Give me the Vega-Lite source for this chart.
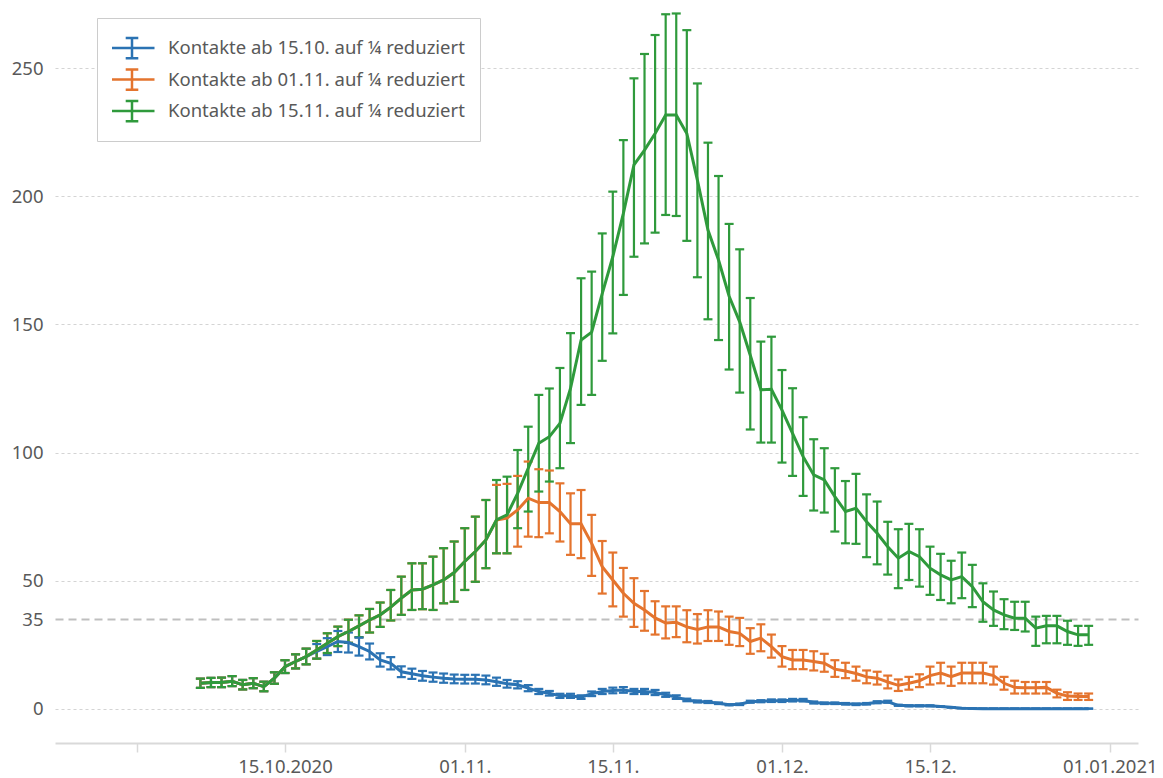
{
"$schema": "https://vega.github.io/schema/vega-lite/v6.json",
"width": 1083, "height": 739, "autosize": "none",
"padding": {"left": 55, "top": 4, "right": 25, "bottom": 35},
"background": "white",
"config": {"view": {"stroke": null}, "font": "Noto Sans"},
"data": {"values": [
{"d":"2020-10-07","s":"15.10.","v":10.0,"lo":8.2,"hi":11.8},
{"d":"2020-10-08","s":"15.10.","v":10.3,"lo":8.5,"hi":12.1},
{"d":"2020-10-09","s":"15.10.","v":10.3,"lo":8.5,"hi":12.2},
{"d":"2020-10-10","s":"15.10.","v":10.8,"lo":8.9,"hi":12.8},
{"d":"2020-10-11","s":"15.10.","v":9.4,"lo":7.6,"hi":11.3},
{"d":"2020-10-12","s":"15.10.","v":10.0,"lo":8.1,"hi":12.0},
{"d":"2020-10-13","s":"15.10.","v":8.7,"lo":6.9,"hi":10.6},
{"d":"2020-10-14","s":"15.10.","v":12.0,"lo":9.8,"hi":14.3},
{"d":"2020-10-15","s":"15.10.","v":16.5,"lo":14.0,"hi":19.0},
{"d":"2020-10-16","s":"15.10.","v":18.5,"lo":15.8,"hi":21.3},
{"d":"2020-10-17","s":"15.10.","v":20.4,"lo":17.4,"hi":23.5},
{"d":"2020-10-18","s":"15.10.","v":22.4,"lo":19.6,"hi":25.3},
{"d":"2020-10-19","s":"15.10.","v":24.3,"lo":21.0,"hi":27.6},
{"d":"2020-10-20","s":"15.10.","v":26.3,"lo":22.2,"hi":30.4},
{"d":"2020-10-21","s":"15.10.","v":25.9,"lo":22.0,"hi":29.8},
{"d":"2020-10-22","s":"15.10.","v":24.3,"lo":20.8,"hi":27.8},
{"d":"2020-10-23","s":"15.10.","v":22.4,"lo":19.3,"hi":25.5},
{"d":"2020-10-24","s":"15.10.","v":19.1,"lo":16.5,"hi":21.7},
{"d":"2020-10-25","s":"15.10.","v":17.8,"lo":15.4,"hi":20.2},
{"d":"2020-10-26","s":"15.10.","v":14.5,"lo":12.4,"hi":16.6},
{"d":"2020-10-27","s":"15.10.","v":13.7,"lo":11.7,"hi":15.7},
{"d":"2020-10-28","s":"15.10.","v":12.9,"lo":11.0,"hi":14.8},
{"d":"2020-10-29","s":"15.10.","v":12.4,"lo":10.6,"hi":14.2},
{"d":"2020-10-30","s":"15.10.","v":12.0,"lo":10.2,"hi":13.8},
{"d":"2020-10-31","s":"15.10.","v":11.7,"lo":10.0,"hi":13.4},
{"d":"2020-11-01","s":"15.10.","v":11.6,"lo":9.9,"hi":13.3},
{"d":"2020-11-02","s":"15.10.","v":11.6,"lo":9.9,"hi":13.3},
{"d":"2020-11-03","s":"15.10.","v":11.3,"lo":9.6,"hi":13.0},
{"d":"2020-11-04","s":"15.10.","v":10.6,"lo":9.0,"hi":12.2},
{"d":"2020-11-05","s":"15.10.","v":9.8,"lo":8.3,"hi":11.3},
{"d":"2020-11-06","s":"15.10.","v":9.4,"lo":8.0,"hi":10.8},
{"d":"2020-11-07","s":"15.10.","v":8.1,"lo":6.9,"hi":9.3},
{"d":"2020-11-08","s":"15.10.","v":6.8,"lo":5.8,"hi":7.8},
{"d":"2020-11-09","s":"15.10.","v":6.1,"lo":5.2,"hi":7.0},
{"d":"2020-11-10","s":"15.10.","v":5.1,"lo":4.3,"hi":5.9},
{"d":"2020-11-11","s":"15.10.","v":5.1,"lo":4.3,"hi":5.9},
{"d":"2020-11-12","s":"15.10.","v":4.6,"lo":3.9,"hi":5.3},
{"d":"2020-11-13","s":"15.10.","v":5.9,"lo":5.0,"hi":6.8},
{"d":"2020-11-14","s":"15.10.","v":6.8,"lo":5.8,"hi":7.8},
{"d":"2020-11-15","s":"15.10.","v":7.2,"lo":6.1,"hi":8.3},
{"d":"2020-11-16","s":"15.10.","v":7.4,"lo":6.3,"hi":8.5},
{"d":"2020-11-17","s":"15.10.","v":6.8,"lo":5.8,"hi":7.8},
{"d":"2020-11-18","s":"15.10.","v":6.8,"lo":5.8,"hi":7.8},
{"d":"2020-11-19","s":"15.10.","v":6.4,"lo":5.4,"hi":7.4},
{"d":"2020-11-20","s":"15.10.","v":5.5,"lo":4.7,"hi":6.3},
{"d":"2020-11-21","s":"15.10.","v":4.6,"lo":3.9,"hi":5.3},
{"d":"2020-11-22","s":"15.10.","v":3.5,"lo":3.0,"hi":4.0},
{"d":"2020-11-23","s":"15.10.","v":2.9,"lo":2.5,"hi":3.3},
{"d":"2020-11-24","s":"15.10.","v":2.7,"lo":2.3,"hi":3.1},
{"d":"2020-11-25","s":"15.10.","v":2.2,"lo":1.9,"hi":2.5},
{"d":"2020-11-26","s":"15.10.","v":1.6,"lo":1.4,"hi":1.8},
{"d":"2020-11-27","s":"15.10.","v":1.8,"lo":1.5,"hi":2.1},
{"d":"2020-11-28","s":"15.10.","v":2.8,"lo":2.4,"hi":3.2},
{"d":"2020-11-29","s":"15.10.","v":3.0,"lo":2.6,"hi":3.4},
{"d":"2020-11-30","s":"15.10.","v":3.2,"lo":2.7,"hi":3.7},
{"d":"2020-12-01","s":"15.10.","v":3.2,"lo":2.7,"hi":3.7},
{"d":"2020-12-02","s":"15.10.","v":3.4,"lo":2.9,"hi":3.9},
{"d":"2020-12-03","s":"15.10.","v":3.4,"lo":2.9,"hi":3.9},
{"d":"2020-12-04","s":"15.10.","v":2.5,"lo":2.1,"hi":2.9},
{"d":"2020-12-05","s":"15.10.","v":2.2,"lo":1.9,"hi":2.5},
{"d":"2020-12-06","s":"15.10.","v":2.2,"lo":1.9,"hi":2.5},
{"d":"2020-12-07","s":"15.10.","v":2.0,"lo":1.7,"hi":2.3},
{"d":"2020-12-08","s":"15.10.","v":1.8,"lo":1.5,"hi":2.1},
{"d":"2020-12-09","s":"15.10.","v":2.0,"lo":1.7,"hi":2.3},
{"d":"2020-12-10","s":"15.10.","v":2.6,"lo":2.2,"hi":3.0},
{"d":"2020-12-11","s":"15.10.","v":2.8,"lo":2.4,"hi":3.2},
{"d":"2020-12-12","s":"15.10.","v":1.4,"lo":1.2,"hi":1.6},
{"d":"2020-12-13","s":"15.10.","v":1.2,"lo":1.0,"hi":1.4},
{"d":"2020-12-14","s":"15.10.","v":1.2,"lo":1.0,"hi":1.4},
{"d":"2020-12-15","s":"15.10.","v":1.2,"lo":1.0,"hi":1.4},
{"d":"2020-12-16","s":"15.10.","v":0.9,"lo":0.8,"hi":1.0},
{"d":"2020-12-17","s":"15.10.","v":0.6,"lo":0.5,"hi":0.7},
{"d":"2020-12-18","s":"15.10.","v":0.3,"lo":0.25,"hi":0.35},
{"d":"2020-12-19","s":"15.10.","v":0.2,"lo":0.15,"hi":0.25},
{"d":"2020-12-20","s":"15.10.","v":0.1,"lo":0.08,"hi":0.12},
{"d":"2020-12-21","s":"15.10.","v":0.1,"lo":0.08,"hi":0.12},
{"d":"2020-12-22","s":"15.10.","v":0.1,"lo":0.08,"hi":0.12},
{"d":"2020-12-23","s":"15.10.","v":0.1,"lo":0.08,"hi":0.12},
{"d":"2020-12-24","s":"15.10.","v":0.1,"lo":0.08,"hi":0.12},
{"d":"2020-12-25","s":"15.10.","v":0.1,"lo":0.08,"hi":0.12},
{"d":"2020-12-26","s":"15.10.","v":0.1,"lo":0.08,"hi":0.12},
{"d":"2020-12-27","s":"15.10.","v":0.1,"lo":0.08,"hi":0.12},
{"d":"2020-12-28","s":"15.10.","v":0.1,"lo":0.08,"hi":0.12},
{"d":"2020-12-29","s":"15.10.","v":0.1,"lo":0.08,"hi":0.12},
{"d":"2020-12-30","s":"15.10.","v":0.1,"lo":0.08,"hi":0.12},
{"d":"2020-10-07","s":"01.11.","v":10.0,"lo":8.2,"hi":11.8},
{"d":"2020-10-08","s":"01.11.","v":10.3,"lo":8.5,"hi":12.1},
{"d":"2020-10-09","s":"01.11.","v":10.3,"lo":8.5,"hi":12.2},
{"d":"2020-10-10","s":"01.11.","v":10.8,"lo":8.9,"hi":12.8},
{"d":"2020-10-11","s":"01.11.","v":9.4,"lo":7.6,"hi":11.3},
{"d":"2020-10-12","s":"01.11.","v":10.0,"lo":8.1,"hi":12.0},
{"d":"2020-10-13","s":"01.11.","v":8.7,"lo":6.9,"hi":10.6},
{"d":"2020-10-14","s":"01.11.","v":12.0,"lo":9.8,"hi":14.3},
{"d":"2020-10-15","s":"01.11.","v":16.5,"lo":14.0,"hi":19.0},
{"d":"2020-10-16","s":"01.11.","v":18.5,"lo":15.8,"hi":21.3},
{"d":"2020-10-17","s":"01.11.","v":20.4,"lo":17.4,"hi":23.5},
{"d":"2020-10-18","s":"01.11.","v":23.0,"lo":19.6,"hi":26.5},
{"d":"2020-10-19","s":"01.11.","v":25.6,"lo":21.8,"hi":29.5},
{"d":"2020-10-20","s":"01.11.","v":28.2,"lo":24.5,"hi":32.1},
{"d":"2020-10-21","s":"01.11.","v":30.2,"lo":25.8,"hi":34.8},
{"d":"2020-10-22","s":"01.11.","v":32.4,"lo":28.0,"hi":36.5},
{"d":"2020-10-23","s":"01.11.","v":34.7,"lo":29.8,"hi":39.0},
{"d":"2020-10-24","s":"01.11.","v":36.7,"lo":32.0,"hi":41.5},
{"d":"2020-10-25","s":"01.11.","v":39.7,"lo":34.5,"hi":46.4},
{"d":"2020-10-26","s":"01.11.","v":43.2,"lo":36.7,"hi":51.6},
{"d":"2020-10-27","s":"01.11.","v":46.4,"lo":38.6,"hi":56.8},
{"d":"2020-10-28","s":"01.11.","v":46.7,"lo":38.9,"hi":56.8},
{"d":"2020-10-29","s":"01.11.","v":48.4,"lo":38.6,"hi":59.4},
{"d":"2020-10-30","s":"01.11.","v":50.3,"lo":41.2,"hi":62.7},
{"d":"2020-10-31","s":"01.11.","v":53.2,"lo":41.8,"hi":65.3},
{"d":"2020-11-01","s":"01.11.","v":57.5,"lo":46.4,"hi":70.5},
{"d":"2020-11-02","s":"01.11.","v":61.4,"lo":49.6,"hi":75.0},
{"d":"2020-11-03","s":"01.11.","v":65.9,"lo":54.9,"hi":81.5},
{"d":"2020-11-04","s":"01.11.","v":73.7,"lo":60.7,"hi":87.4},
{"d":"2020-11-05","s":"01.11.","v":74.4,"lo":60.7,"hi":87.8},
{"d":"2020-11-06","s":"01.11.","v":77.6,"lo":63.3,"hi":90.9},
{"d":"2020-11-07","s":"01.11.","v":82.2,"lo":67.2,"hi":96.5},
{"d":"2020-11-08","s":"01.11.","v":80.5,"lo":67.0,"hi":93.5},
{"d":"2020-11-09","s":"01.11.","v":80.5,"lo":68.5,"hi":93.0},
{"d":"2020-11-10","s":"01.11.","v":77.0,"lo":65.3,"hi":88.0},
{"d":"2020-11-11","s":"01.11.","v":72.2,"lo":60.1,"hi":84.1},
{"d":"2020-11-12","s":"01.11.","v":72.2,"lo":58.8,"hi":85.4},
{"d":"2020-11-13","s":"01.11.","v":64.6,"lo":51.9,"hi":75.7},
{"d":"2020-11-14","s":"01.11.","v":55.5,"lo":45.0,"hi":65.5},
{"d":"2020-11-15","s":"01.11.","v":50.3,"lo":40.0,"hi":61.0},
{"d":"2020-11-16","s":"01.11.","v":45.1,"lo":36.0,"hi":55.0},
{"d":"2020-11-17","s":"01.11.","v":41.2,"lo":32.0,"hi":51.0},
{"d":"2020-11-18","s":"01.11.","v":38.6,"lo":30.5,"hi":46.0},
{"d":"2020-11-19","s":"01.11.","v":35.5,"lo":29.0,"hi":42.0},
{"d":"2020-11-20","s":"01.11.","v":33.5,"lo":27.5,"hi":40.0},
{"d":"2020-11-21","s":"01.11.","v":33.8,"lo":28.0,"hi":40.0},
{"d":"2020-11-22","s":"01.11.","v":32.0,"lo":26.0,"hi":38.5},
{"d":"2020-11-23","s":"01.11.","v":31.0,"lo":25.5,"hi":37.0},
{"d":"2020-11-24","s":"01.11.","v":32.0,"lo":26.5,"hi":38.5},
{"d":"2020-11-25","s":"01.11.","v":32.0,"lo":26.5,"hi":38.0},
{"d":"2020-11-26","s":"01.11.","v":30.2,"lo":25.0,"hi":36.0},
{"d":"2020-11-27","s":"01.11.","v":29.5,"lo":24.5,"hi":35.5},
{"d":"2020-11-28","s":"01.11.","v":26.3,"lo":21.5,"hi":31.5},
{"d":"2020-11-29","s":"01.11.","v":27.6,"lo":22.5,"hi":33.0},
{"d":"2020-11-30","s":"01.11.","v":24.3,"lo":20.0,"hi":29.0},
{"d":"2020-12-01","s":"01.11.","v":20.4,"lo":16.5,"hi":24.5},
{"d":"2020-12-02","s":"01.11.","v":19.1,"lo":15.5,"hi":23.0},
{"d":"2020-12-03","s":"01.11.","v":19.1,"lo":15.5,"hi":23.0},
{"d":"2020-12-04","s":"01.11.","v":18.5,"lo":15.0,"hi":22.5},
{"d":"2020-12-05","s":"01.11.","v":17.8,"lo":14.5,"hi":21.5},
{"d":"2020-12-06","s":"01.11.","v":15.5,"lo":12.5,"hi":19.0},
{"d":"2020-12-07","s":"01.11.","v":14.8,"lo":12.0,"hi":18.0},
{"d":"2020-12-08","s":"01.11.","v":13.8,"lo":11.0,"hi":16.5},
{"d":"2020-12-09","s":"01.11.","v":12.5,"lo":10.0,"hi":15.0},
{"d":"2020-12-10","s":"01.11.","v":12.0,"lo":9.5,"hi":14.5},
{"d":"2020-12-11","s":"01.11.","v":10.5,"lo":8.0,"hi":13.0},
{"d":"2020-12-12","s":"01.11.","v":9.2,"lo":7.0,"hi":11.5},
{"d":"2020-12-13","s":"01.11.","v":10.0,"lo":7.5,"hi":12.5},
{"d":"2020-12-14","s":"01.11.","v":11.0,"lo":8.5,"hi":13.5},
{"d":"2020-12-15","s":"01.11.","v":13.0,"lo":9.5,"hi":16.5},
{"d":"2020-12-16","s":"01.11.","v":14.0,"lo":10.0,"hi":18.0},
{"d":"2020-12-17","s":"01.11.","v":12.6,"lo":9.0,"hi":16.5},
{"d":"2020-12-18","s":"01.11.","v":14.0,"lo":10.0,"hi":18.0},
{"d":"2020-12-19","s":"01.11.","v":14.0,"lo":10.0,"hi":18.0},
{"d":"2020-12-20","s":"01.11.","v":14.0,"lo":10.0,"hi":18.0},
{"d":"2020-12-21","s":"01.11.","v":13.0,"lo":9.5,"hi":16.5},
{"d":"2020-12-22","s":"01.11.","v":10.0,"lo":7.5,"hi":12.5},
{"d":"2020-12-23","s":"01.11.","v":8.4,"lo":6.0,"hi":11.0},
{"d":"2020-12-24","s":"01.11.","v":8.3,"lo":6.0,"hi":10.5},
{"d":"2020-12-25","s":"01.11.","v":8.3,"lo":6.0,"hi":10.5},
{"d":"2020-12-26","s":"01.11.","v":8.4,"lo":6.0,"hi":10.5},
{"d":"2020-12-27","s":"01.11.","v":6.1,"lo":4.5,"hi":7.5},
{"d":"2020-12-28","s":"01.11.","v":5.0,"lo":3.5,"hi":6.5},
{"d":"2020-12-29","s":"01.11.","v":4.8,"lo":3.5,"hi":6.0},
{"d":"2020-12-30","s":"01.11.","v":4.8,"lo":3.5,"hi":6.0},
{"d":"2020-10-07","s":"15.11.","v":10.0,"lo":8.2,"hi":11.8},
{"d":"2020-10-08","s":"15.11.","v":10.3,"lo":8.5,"hi":12.1},
{"d":"2020-10-09","s":"15.11.","v":10.3,"lo":8.5,"hi":12.2},
{"d":"2020-10-10","s":"15.11.","v":10.8,"lo":8.9,"hi":12.8},
{"d":"2020-10-11","s":"15.11.","v":9.4,"lo":7.6,"hi":11.3},
{"d":"2020-10-12","s":"15.11.","v":10.0,"lo":8.1,"hi":12.0},
{"d":"2020-10-13","s":"15.11.","v":8.7,"lo":6.9,"hi":10.6},
{"d":"2020-10-14","s":"15.11.","v":12.0,"lo":9.8,"hi":14.3},
{"d":"2020-10-15","s":"15.11.","v":16.5,"lo":14.0,"hi":19.0},
{"d":"2020-10-16","s":"15.11.","v":18.5,"lo":15.8,"hi":21.3},
{"d":"2020-10-17","s":"15.11.","v":20.4,"lo":17.4,"hi":23.5},
{"d":"2020-10-18","s":"15.11.","v":23.0,"lo":19.6,"hi":26.5},
{"d":"2020-10-19","s":"15.11.","v":25.6,"lo":21.8,"hi":29.5},
{"d":"2020-10-20","s":"15.11.","v":28.2,"lo":24.5,"hi":32.1},
{"d":"2020-10-21","s":"15.11.","v":30.2,"lo":25.8,"hi":34.8},
{"d":"2020-10-22","s":"15.11.","v":32.4,"lo":28.0,"hi":36.5},
{"d":"2020-10-23","s":"15.11.","v":34.7,"lo":29.8,"hi":39.0},
{"d":"2020-10-24","s":"15.11.","v":36.7,"lo":32.0,"hi":41.5},
{"d":"2020-10-25","s":"15.11.","v":39.7,"lo":34.5,"hi":46.4},
{"d":"2020-10-26","s":"15.11.","v":43.2,"lo":36.7,"hi":51.6},
{"d":"2020-10-27","s":"15.11.","v":46.4,"lo":38.6,"hi":56.8},
{"d":"2020-10-28","s":"15.11.","v":46.7,"lo":38.9,"hi":56.8},
{"d":"2020-10-29","s":"15.11.","v":48.4,"lo":38.6,"hi":59.4},
{"d":"2020-10-30","s":"15.11.","v":50.3,"lo":41.2,"hi":62.7},
{"d":"2020-10-31","s":"15.11.","v":53.2,"lo":41.8,"hi":65.3},
{"d":"2020-11-01","s":"15.11.","v":57.5,"lo":46.4,"hi":70.5},
{"d":"2020-11-02","s":"15.11.","v":61.4,"lo":49.6,"hi":75.0},
{"d":"2020-11-03","s":"15.11.","v":65.9,"lo":54.9,"hi":81.5},
{"d":"2020-11-04","s":"15.11.","v":73.7,"lo":60.7,"hi":89.3},
{"d":"2020-11-05","s":"15.11.","v":75.7,"lo":60.7,"hi":90.6},
{"d":"2020-11-06","s":"15.11.","v":84.1,"lo":70.5,"hi":101.0},
{"d":"2020-11-07","s":"15.11.","v":93.9,"lo":77.0,"hi":110.1},
{"d":"2020-11-08","s":"15.11.","v":103.6,"lo":84.8,"hi":122.5},
{"d":"2020-11-09","s":"15.11.","v":106.2,"lo":88.7,"hi":125.0},
{"d":"2020-11-10","s":"15.11.","v":111.4,"lo":93.9,"hi":133.0},
{"d":"2020-11-11","s":"15.11.","v":125.0,"lo":103.7,"hi":146.6},
{"d":"2020-11-12","s":"15.11.","v":143.9,"lo":118.6,"hi":168.0},
{"d":"2020-11-13","s":"15.11.","v":147.0,"lo":122.5,"hi":170.6},
{"d":"2020-11-14","s":"15.11.","v":162.0,"lo":135.8,"hi":185.5},
{"d":"2020-11-15","s":"15.11.","v":176.4,"lo":146.5,"hi":201.8},
{"d":"2020-11-16","s":"15.11.","v":193.3,"lo":161.5,"hi":221.9},
{"d":"2020-11-17","s":"15.11.","v":212.2,"lo":176.4,"hi":246.0},
{"d":"2020-11-18","s":"15.11.","v":218.0,"lo":181.6,"hi":255.5},
{"d":"2020-11-19","s":"15.11.","v":224.5,"lo":185.8,"hi":262.9},
{"d":"2020-11-20","s":"15.11.","v":231.7,"lo":192.7,"hi":271.0},
{"d":"2020-11-21","s":"15.11.","v":231.7,"lo":192.3,"hi":271.3},
{"d":"2020-11-22","s":"15.11.","v":224.5,"lo":182.6,"hi":264.8},
{"d":"2020-11-23","s":"15.11.","v":206.3,"lo":168.4,"hi":244.0},
{"d":"2020-11-24","s":"15.11.","v":186.8,"lo":152.0,"hi":220.9},
{"d":"2020-11-25","s":"15.11.","v":175.1,"lo":143.9,"hi":207.9},
{"d":"2020-11-26","s":"15.11.","v":161.0,"lo":132.4,"hi":189.2},
{"d":"2020-11-27","s":"15.11.","v":151.0,"lo":123.4,"hi":179.3},
{"d":"2020-11-28","s":"15.11.","v":138.0,"lo":109.0,"hi":160.3},
{"d":"2020-11-29","s":"15.11.","v":124.5,"lo":103.9,"hi":143.3},
{"d":"2020-11-30","s":"15.11.","v":124.7,"lo":103.9,"hi":145.2},
{"d":"2020-12-01","s":"15.11.","v":116.6,"lo":96.1,"hi":132.2},
{"d":"2020-12-02","s":"15.11.","v":107.5,"lo":90.9,"hi":125.1},
{"d":"2020-12-03","s":"15.11.","v":98.4,"lo":83.1,"hi":113.8},
{"d":"2020-12-04","s":"15.11.","v":91.3,"lo":77.4,"hi":105.2},
{"d":"2020-12-05","s":"15.11.","v":89.3,"lo":76.6,"hi":101.7},
{"d":"2020-12-06","s":"15.11.","v":82.8,"lo":69.2,"hi":93.9},
{"d":"2020-12-07","s":"15.11.","v":77.0,"lo":64.6,"hi":88.9},
{"d":"2020-12-08","s":"15.11.","v":78.3,"lo":64.4,"hi":91.7},
{"d":"2020-12-09","s":"15.11.","v":73.0,"lo":59.2,"hi":83.7},
{"d":"2020-12-10","s":"15.11.","v":68.5,"lo":56.4,"hi":80.9},
{"d":"2020-12-11","s":"15.11.","v":63.3,"lo":52.4,"hi":73.0},
{"d":"2020-12-12","s":"15.11.","v":58.8,"lo":47.1,"hi":70.1},
{"d":"2020-12-13","s":"15.11.","v":61.4,"lo":50.3,"hi":72.2},
{"d":"2020-12-14","s":"15.11.","v":59.4,"lo":47.7,"hi":70.1},
{"d":"2020-12-15","s":"15.11.","v":54.9,"lo":44.5,"hi":63.3},
{"d":"2020-12-16","s":"15.11.","v":52.3,"lo":42.5,"hi":60.5},
{"d":"2020-12-17","s":"15.11.","v":50.3,"lo":41.2,"hi":57.8},
{"d":"2020-12-18","s":"15.11.","v":51.6,"lo":43.2,"hi":61.0},
{"d":"2020-12-19","s":"15.11.","v":47.7,"lo":39.7,"hi":56.2},
{"d":"2020-12-20","s":"15.11.","v":41.8,"lo":34.0,"hi":49.0},
{"d":"2020-12-21","s":"15.11.","v":38.6,"lo":32.4,"hi":45.8},
{"d":"2020-12-22","s":"15.11.","v":36.7,"lo":31.1,"hi":42.8},
{"d":"2020-12-23","s":"15.11.","v":35.4,"lo":30.8,"hi":41.8},
{"d":"2020-12-24","s":"15.11.","v":35.4,"lo":30.2,"hi":41.8},
{"d":"2020-12-25","s":"15.11.","v":31.5,"lo":24.6,"hi":36.0},
{"d":"2020-12-26","s":"15.11.","v":32.4,"lo":25.6,"hi":36.3},
{"d":"2020-12-27","s":"15.11.","v":32.4,"lo":25.6,"hi":36.3},
{"d":"2020-12-28","s":"15.11.","v":30.2,"lo":25.0,"hi":34.4},
{"d":"2020-12-29","s":"15.11.","v":28.9,"lo":24.6,"hi":32.4},
{"d":"2020-12-30","s":"15.11.","v":28.9,"lo":25.0,"hi":32.4}
]},
"encoding": {
  "x": {"field": "d", "type": "temporal", "title": null,
    "scale": {"type": "utc", "domain": [{"year": 2020, "month": 9, "date": 23, "hours": 6, "utc": true}, {"year": 2021, "month": 1, "date": 3, "hours": 16, "utc": true}]},
    "axis": {"values": [{"year": 2020, "month": 10, "date": 1, "utc": true}, {"year": 2020, "month": 10, "date": 15, "utc": true}, {"year": 2020, "month": 11, "date": 1, "utc": true}, {"year": 2020, "month": 11, "date": 15, "utc": true}, {"year": 2020, "month": 12, "date": 1, "utc": true}, {"year": 2020, "month": 12, "date": 15, "utc": true}, {"year": 2021, "month": 1, "date": 1, "utc": true}],
      "labelExpr": "utcFormat(datum.value, '%d.%m.') == '01.10.' ? '' : utcFormat(datum.value, '%d.%m.') == '15.10.' ? '15.10.2020' : utcFormat(datum.value, '%d.%m.') == '01.01.' ? '01.01.2021' : utcFormat(datum.value, '%d.%m.')",
      "grid": false, "domainColor": "#d9d9d9", "domainWidth": 2, "tickColor": "#d9d9d9", "tickSize": 9, "tickWidth": 1.5,
      "labelFont": "Noto Sans", "labelFontSize": 18.5, "labelColor": "#595959", "labelPadding": 5, "labelFlush": false, "labelOverlap": false}},
  "color": {"field": "s", "type": "nominal",
    "scale": {"domain": ["15.10.", "01.11.", "15.11."], "range": ["#2b73b3", "#e4742e", "#2f9a3c"]},
    "legend": {"orient": "none", "legendX": 42, "legendY": 14, "title": null,
      "labelExpr": "'Kontakte ab ' + datum.label + ' auf ¼ reduziert'",
      "symbolType": "M-1,0H1M0,-0.45V0.45M-0.28,-0.45H0.28M-0.28,0.45H0.28",
      "symbolSize": 2025, "symbolStrokeWidth": 2.5, "symbolOffset": -4, "clipHeight": 30, "rowPadding": 1.5, "padding": 15,
      "strokeColor": "#cccccc", "fillColor": "white", "labelFont": "Noto Sans", "labelFontSize": 18.5, "labelColor": "#595959", "labelOffset": 12, "labelLimit": 400}}
},
"layer": [
  {"mark": {"type": "rule", "strokeWidth": 2.2},
   "encoding": {"y": {"field": "lo", "type": "quantitative", "title": null, "scale": {"domain": [-13.3, 275], "nice": false, "zero": false},
     "axis": {"values": [0, 35, 50, 100, 150, 200, 250], "domain": false, "ticks": false, "labelPadding": 12, "title": null,
       "labelFont": "Noto Sans", "labelFontSize": 18.5, "labelColor": "#595959", "grid": true,
       "gridColor": {"condition": {"test": "datum.value == 35", "value": "#bfbfbf"}, "value": "#d4d4d4"},
       "gridDash": {"condition": {"test": "datum.value == 35", "value": [8, 5]}, "value": [3, 3]},
       "gridWidth": {"condition": {"test": "datum.value == 35", "value": 2}, "value": 1.2}}},
     "y2": {"field": "hi"}}},
  {"mark": {"type": "rule", "strokeWidth": 2.2, "xOffset": -4.5, "x2Offset": 4.5},
   "encoding": {"x2": {"field": "d"}, "y": {"field": "lo", "type": "quantitative", "title": null, "scale": {"domain": [-13.3, 275], "nice": false, "zero": false},
     "axis": {"values": [0, 35, 50, 100, 150, 200, 250], "domain": false, "ticks": false, "labelPadding": 12, "title": null,
       "labelFont": "Noto Sans", "labelFontSize": 18.5, "labelColor": "#595959", "grid": true,
       "gridColor": {"condition": {"test": "datum.value == 35", "value": "#bfbfbf"}, "value": "#d4d4d4"},
       "gridDash": {"condition": {"test": "datum.value == 35", "value": [8, 5]}, "value": [3, 3]},
       "gridWidth": {"condition": {"test": "datum.value == 35", "value": 2}, "value": 1.2}}}}},
  {"mark": {"type": "rule", "strokeWidth": 2.2, "xOffset": -4.5, "x2Offset": 4.5},
   "encoding": {"x2": {"field": "d"}, "y": {"field": "hi", "type": "quantitative", "title": null, "scale": {"domain": [-13.3, 275], "nice": false, "zero": false},
     "axis": {"values": [0, 35, 50, 100, 150, 200, 250], "domain": false, "ticks": false, "labelPadding": 12, "title": null,
       "labelFont": "Noto Sans", "labelFontSize": 18.5, "labelColor": "#595959", "grid": true,
       "gridColor": {"condition": {"test": "datum.value == 35", "value": "#bfbfbf"}, "value": "#d4d4d4"},
       "gridDash": {"condition": {"test": "datum.value == 35", "value": [8, 5]}, "value": [3, 3]},
       "gridWidth": {"condition": {"test": "datum.value == 35", "value": 2}, "value": 1.2}}}}},
  {"mark": {"type": "line", "strokeWidth": 3},
   "encoding": {"y": {"field": "v", "type": "quantitative", "title": null, "scale": {"domain": [-13.3, 275], "nice": false, "zero": false},
     "axis": {"values": [0, 35, 50, 100, 150, 200, 250], "domain": false, "ticks": false, "labelPadding": 12, "title": null,
       "labelFont": "Noto Sans", "labelFontSize": 18.5, "labelColor": "#595959", "grid": true,
       "gridColor": {"condition": {"test": "datum.value == 35", "value": "#bfbfbf"}, "value": "#d4d4d4"},
       "gridDash": {"condition": {"test": "datum.value == 35", "value": [8, 5]}, "value": [3, 3]},
       "gridWidth": {"condition": {"test": "datum.value == 35", "value": 2}, "value": 1.2}}}}}
]
}
